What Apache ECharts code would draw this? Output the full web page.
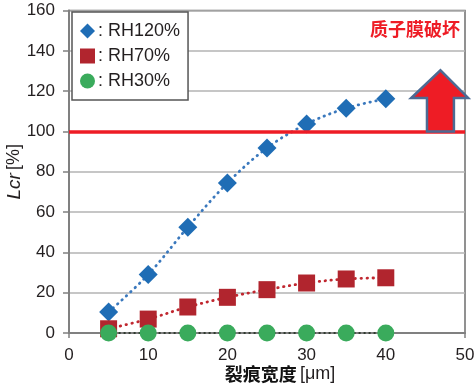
<!DOCTYPE html>
<html><head><meta charset="utf-8">
<script src="https://cdn.jsdelivr.net/npm/echarts@6/dist/echarts.min.js"></script>
<style>html,body{margin:0;padding:0;background:#fff}#c{width:475px;height:388px}</style>
</head><body><div id="c"></div>
<script>
const crackWidth = [5, 10, 15, 20, 25, 30, 35, 40];
const rh120 = [10.4, 29, 52.5, 74.4, 91.8, 103.7, 111.5, 116.2];
const rh70 = [2.1, 6.9, 12.9, 17.7, 21.5, 24.8, 26.8, 27.4];
const rh30 = [0, 0, 0, 0, 0, 0, 0, 0];
const seriesNames = ['RH120%', 'RH70%', 'RH30%'];
const threshold = 100;
const xTicks = [0, 10, 20, 30, 40, 50];
const yTicks = [0, 20, 40, 60, 80, 100, 120, 140, 160];
// arrow annotation in data coordinates: [x, y]
const arrowPts = [[45.2, 100], [45.2, 116.6], [43.2, 116.6], [46.9, 130.3], [50.4, 116.6], [48.6, 116.6], [48.6, 100]];

const pair = (xs, ys) => xs.map((x, i) => [x, ys[i]]);
const chart = echarts.init(document.getElementById('c'));
const FONT = 'Liberation Sans, Arial, sans-serif';
const opt = {
  animation: false,
  grid: {left: 69, right: 10, top: 10.5, bottom: 55, containLabel: false, outerBoundsMode: 'none',
    show: true, borderColor: '#6e6e6e', borderWidth: 1.5},
  legend: {
    orient: 'vertical', left: 72, top: 12, padding: [10, 8, 10, 8], itemGap: 7,
    itemWidth: 15, itemHeight: 15,
    backgroundColor: '#fff', borderColor: '#555', borderWidth: 1.5,
    textStyle: {fontFamily: FONT, fontSize: 18, color: '#231f20', padding: [0, 0, 0, -2]},
    formatter: n => ': ' + n,
    data: [
      {name: seriesNames[0], icon: 'diamond'},
      {name: seriesNames[1], icon: 'rect'},
      {name: seriesNames[2], icon: 'circle'}
    ]
  },
  xAxis: {
    type: 'value', min: xTicks[0], max: xTicks[xTicks.length - 1], interval: 10,
    name: '{b|裂痕宽度} {n|[μm]}', nameLocation: 'middle', nameGap: 32, nameMoveOverlap: false,
    nameTextStyle: {padding: [0, 0, 0, 26], rich: {
      b: {fontFamily: 'Noto Sans CJK SC', fontWeight: 'bold', fontSize: 18, color: '#111'},
      n: {fontFamily: FONT, fontSize: 18, color: '#231f20'}}},
    axisLine: {lineStyle: {color: '#808080', width: 2}},
    axisTick: {show: true, length: 5, lineStyle: {color: '#808080', width: 1.5}},
    splitLine: {show: false},
    axisLabel: {fontFamily: FONT, fontSize: 17, color: '#231f20', margin: 14}
  },
  yAxis: {
    type: 'value', min: yTicks[0], max: yTicks[yTicks.length - 1], interval: 20,
    name: '{i|Lcr} {n|[%]}', nameLocation: 'middle', nameGap: 45, nameRotate: 90, nameMoveOverlap: false,
    nameTextStyle: {rich: {
      i: {fontFamily: FONT, fontStyle: 'italic', fontSize: 19, color: '#231f20'},
      n: {fontFamily: FONT, fontSize: 18, color: '#231f20'}}},
    axisLine: {show: true, lineStyle: {color: '#808080', width: 2}},
    axisTick: {show: true, length: 6, lineStyle: {color: '#808080', width: 1.5}},
    splitLine: {lineStyle: {color: '#b3b3b3', width: 1.5}},
    axisLabel: {fontFamily: FONT, fontSize: 17, color: '#231f20', margin: 14}
  },
  series: [
    {
      name: seriesNames[0], type: 'line', data: pair(crackWidth, rh120), smooth: 0.35,
      symbol: 'diamond', symbolSize: 19, itemStyle: {color: '#1f6db5'},
      lineStyle: {color: '#3a78bd', width: 2.8, type: [0.5, 5.5], cap: 'round'},
      markLine: {silent: true, symbol: 'none', label: {show: false},
        lineStyle: {color: '#ee1c25', width: 3.5, type: 'solid'},
        data: [[{coord: [xTicks[0], threshold]}, {coord: [xTicks[xTicks.length - 1], threshold]}]]},
      z: 3
    },
    {
      name: seriesNames[1], type: 'line', data: pair(crackWidth, rh70), smooth: 0.35,
      symbol: 'rect', symbolSize: 17, itemStyle: {color: '#b1252e'},
      lineStyle: {color: '#c0272f', width: 2.8, type: [0.5, 5.5], cap: 'round'},
      z: 4
    },
    {
      name: seriesNames[2], type: 'line', data: pair(crackWidth, rh30),
      symbol: 'circle', symbolSize: 17, itemStyle: {color: '#3aab5c'},
      lineStyle: {color: '#2f3a2f', width: 2, type: [2, 3]},
      z: 5
    }
  ]
};
chart.setOption(opt);
const pts = arrowPts.map(p => chart.convertToPixel({gridIndex: 0}, p));
chart.setOption({
  graphic: [
    {type: 'polygon', shape: {points: pts}, style: {fill: '#ee1c25', stroke: '#4d6b94', lineWidth: 2.5}, z: 10},
    {type: 'text', right: 15, top: 20, style: {text: '质子膜破坏', fill: '#ee1c25', font: 'bold 18px "Noto Sans CJK SC"'}, z: 10}
  ]
});
</script></body></html>
